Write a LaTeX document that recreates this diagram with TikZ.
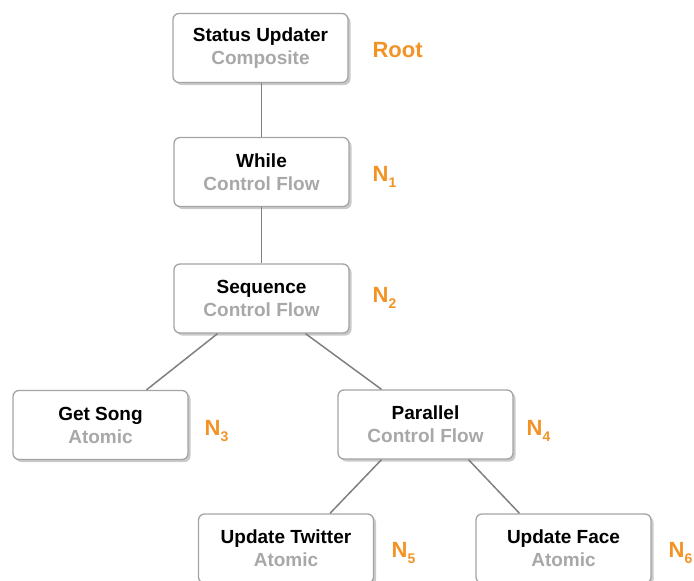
\documentclass[tikz,border=0pt]{standalone}
\usepackage{fontspec}
\setmainfont{Liberation Sans}
\usetikzlibrary{shadows}
\definecolor{subgray}{HTML}{A8A8A8}
\definecolor{boxgray}{HTML}{A4A4A4}
\definecolor{linegray}{HTML}{808080}
\definecolor{lblorange}{HTML}{F39325}
\newcommand{\nlab}[1]{N\kern0.3pt\raisebox{-0.45ex}{\fontsize{14}{14}\selectfont #1}}
\newcommand{\twoline}[2]{#1\\{\color{subgray}#2}}
\begin{document}
\begin{tikzpicture}[x=1pt,y=-1pt,
  tnode/.style={draw=boxgray, line width=1.3pt, rounded corners=6pt, fill=white,
    minimum width=175pt, minimum height=69pt, align=center,
    font=\fontsize{19}{23}\selectfont\bfseries,
    drop shadow={shadow xshift=2.5pt, shadow yshift=-2.5pt, opacity=0.35, fill=black!60}},
  lbl/.style={text=lblorange, font=\fontsize{22}{24}\selectfont\bfseries, anchor=west},
  conn/.style={draw=linegray, line width=1.5pt}]
\useasboundingbox (0,0) rectangle (694,581);
\clip (0,0) rectangle (694,581);
\node[tnode] (root) at (260.5,48) {\twoline{Status Updater}{Composite}};
\node[tnode] (while) at (261.5,172) {\twoline{While}{Control Flow}};
\node[tnode] (seq) at (261.5,298.5) {\twoline{Sequence}{Control Flow}};
\node[tnode] (get) at (100.5,425) {\twoline{Get Song}{Atomic}};
\node[tnode] (par) at (425.5,424.5) {\twoline{Parallel}{Control Flow}};
\node[tnode] (tw) at (286,548.5) {\twoline{Update Twitter}{Atomic}};
\node[tnode] (fb) at (563.5,548.5) {\twoline{Update Face}{Atomic}};

\node[lbl] (lroot) at (369,50) {Root};
\node[lbl] (l1) at (369,177) {\nlab{1}};
\node[lbl] (l2) at (369,298) {\nlab{2}};
\node[lbl] (l3) at (201,431) {\nlab{3}};
\node[lbl] (l4) at (523,431) {\nlab{4}};
\node[lbl] (l5) at (388,553) {\nlab{5}};
\node[lbl] (l6) at (665,553) {\nlab{6}};

\draw[conn] ([xshift=1pt]root.south) -- (while.north);
\draw[conn] (while.south) -- (seq.north);
\draw[conn] ([xshift=-44pt]seq.south) -- ([xshift=46pt]get.north);
\draw[conn] ([xshift=44pt]seq.south) -- ([xshift=-44pt]par.north);
\draw[conn] ([xshift=-44pt]par.south) -- ([xshift=44pt]tw.north);
\draw[conn] ([xshift=43pt]par.south) -- ([xshift=-44pt]fb.north);
\end{tikzpicture}
\end{document}
